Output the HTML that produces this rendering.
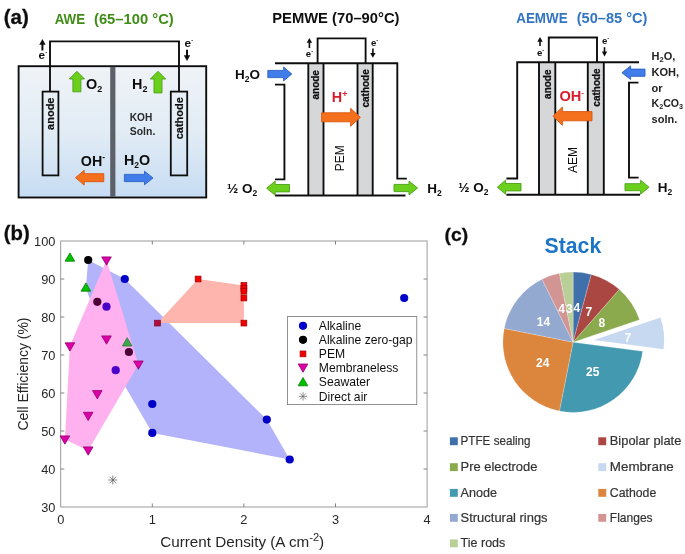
<!DOCTYPE html>
<html><head><meta charset="utf-8"><title>Water electrolysers</title>
<style>html,body{margin:0;padding:0;background:#fff}svg{display:block}text{font-family:'Liberation Sans', sans-serif}</style></head><body>
<svg width="685" height="554" viewBox="0 0 685 554">
<defs><linearGradient id="tank" x1="0" y1="0" x2="0" y2="1"><stop offset="0" stop-color="#eff3f7"/><stop offset="0.5" stop-color="#e2ecf5"/><stop offset="1" stop-color="#c6dcf3"/></linearGradient><linearGradient id="grn" x1="0" y1="0" x2="1" y2="1"><stop offset="0" stop-color="#7ccc2e"/><stop offset="1" stop-color="#5fb81f"/></linearGradient><filter id="soft" x="0" y="0" width="685" height="554" filterUnits="userSpaceOnUse"><feGaussianBlur stdDeviation="0.35"/></filter></defs>
<rect width="685" height="554" fill="#fff"/>
<g filter="url(#soft)">
<text x="3.8" y="24" font-size="20.5" font-weight="bold" fill="#111" stroke="#111" stroke-width="0.3">(a)</text>
<text x="54.7" y="23.6" font-size="15.2" font-weight="bold" fill="#408d18" textLength="30.4" lengthAdjust="spacingAndGlyphs">AWE</text>
<text x="94" y="23.6" font-size="15.2" font-weight="bold" fill="#408d18" textLength="79.7" lengthAdjust="spacingAndGlyphs">(65–100 °C)</text>
<rect x="18.6" y="66.2" width="187.6" height="131.3" fill="url(#tank)" stroke="#111" stroke-width="1.9"/>
<rect x="110.2" y="66.9" width="5.2" height="130" fill="#5b6169"/>
<polyline points="50,92 50,41.4 179,41.4 179,92" fill="none" stroke="#111" stroke-width="1.9"/>
<rect x="42.6" y="91.6" width="15.8" height="83.8" fill="none" stroke="#111" stroke-width="1.8"/>
<rect x="170.8" y="91.6" width="16.4" height="83.8" fill="none" stroke="#111" stroke-width="1.8"/>
<text transform="translate(54.2,113.7) rotate(-90)" text-anchor="middle" font-size="11" font-weight="bold" fill="#111" stroke="#111" stroke-width="0.2">anode</text>
<text transform="translate(183.4,118.2) rotate(-90)" text-anchor="middle" font-size="11" font-weight="bold" fill="#111" stroke="#111" stroke-width="0.2">cathode</text>
<line x1="42.4" y1="50.5" x2="42.4" y2="42" stroke="#111" stroke-width="2"/><polygon points="39.199999999999996,44.8 45.6,44.8 42.4,39" fill="#111"/>
<text x="38.6" y="59.2" font-size="11.8" font-weight="bold" fill="#111">e<tspan font-size="6" dy="-5.0">-</tspan></text>
<text x="184.6" y="47.2" font-size="11.8" font-weight="bold" fill="#111">e<tspan font-size="6" dy="-5.0">-</tspan></text>
<line x1="187" y1="49.8" x2="187" y2="58" stroke="#111" stroke-width="2"/><polygon points="183.8,55.2 190.2,55.2 187,61" fill="#111"/>
<polygon points="72.9,91.8 72.9,79 69.30000000000001,79 76.9,71.3 84.5,79 80.9,79 80.9,91.8" fill="#6ad01e" stroke="#4c9f17" stroke-width="0.9" stroke-linejoin="miter"/>
<polygon points="154,92.9 154,79 150.3,79 158,71.3 165.7,79 162,79 162,92.9" fill="#6ad01e" stroke="#4c9f17" stroke-width="0.9" stroke-linejoin="miter"/>
<text x="86" y="88.6" font-size="14.4" font-weight="bold" fill="#111">O<tspan font-size="9" dy="3">2</tspan></text>
<text x="132" y="88.6" font-size="14.4" font-weight="bold" fill="#111">H<tspan font-size="9" dy="3">2</tspan></text>
<text x="129.8" y="121.3" font-size="10" font-weight="bold" fill="#2a2a2a" textLength="22.5" lengthAdjust="spacingAndGlyphs">KOH</text>
<text x="129.8" y="134.7" font-size="10" font-weight="bold" fill="#2a2a2a" textLength="25.5" lengthAdjust="spacingAndGlyphs">Soln.</text>
<text x="80.8" y="166" font-size="14.3" font-weight="bold" fill="#111">OH<tspan font-size="8.5" dy="-6">-</tspan></text>
<text x="124" y="165.3" font-size="14.3" font-weight="bold" fill="#111">H<tspan font-size="8.5" dy="2.5">2</tspan><tspan dy="-2.5">O</tspan></text>
<polygon points="103.8,173.7 84.2,173.7 84.2,170.29999999999998 75.5,177.7 84.2,185.1 84.2,181.7 103.8,181.7" fill="#f4701f" stroke="#d9560f" stroke-width="0.9" stroke-linejoin="miter"/>
<polygon points="124.4,174.4 144.5,174.4 144.5,171.2 153,178 144.5,184.8 144.5,181.6 124.4,181.6" fill="#3f7bea" stroke="#2c62c4" stroke-width="0.9" stroke-linejoin="miter"/>
<text x="272.2" y="23" font-size="14.5" font-weight="bold" fill="#111" textLength="127.3" lengthAdjust="spacingAndGlyphs">PEMWE (70–90°C)</text>
<rect x="308.3" y="63.3" width="15.2" height="132.2" fill="#d6d7d9"/>
<rect x="357.5" y="63.3" width="15.2" height="132.2" fill="#d6d7d9"/>
<line x1="308.3" y1="63.3" x2="308.3" y2="195.5" stroke="#111" stroke-width="1.9"/>
<line x1="323.5" y1="63.3" x2="323.5" y2="195.5" stroke="#111" stroke-width="1.9"/>
<line x1="357.5" y1="63.3" x2="357.5" y2="195.5" stroke="#111" stroke-width="1.9"/>
<line x1="372.7" y1="63.3" x2="372.7" y2="195.5" stroke="#111" stroke-width="1.9"/>
<polyline points="275,63.3 397.3,63.3 397.3,178.6 406.8,178.6" fill="none" stroke="#111" stroke-width="1.9"/>
<polyline points="275,84.6 284.4,84.6 284.4,179.4 275,179.4" fill="none" stroke="#111" stroke-width="1.9"/>
<line x1="275" y1="195.5" x2="405.5" y2="195.5" stroke="#111" stroke-width="1.9"/>
<polyline points="317.6,63.3 317.6,38.4 365.6,38.4 365.6,63.3" fill="none" stroke="#111" stroke-width="1.9"/>
<line x1="309.4" y1="48" x2="309.4" y2="41" stroke="#111" stroke-width="1.6"/><polygon points="306.7,42.8 312.09999999999997,42.8 309.4,38" fill="#111"/>
<text x="305.8" y="57.4" font-size="9.6" font-weight="bold" fill="#111">e<tspan font-size="6" dy="-4.0">-</tspan></text>
<text x="371" y="45.6" font-size="9.6" font-weight="bold" fill="#111">e<tspan font-size="6" dy="-4.0">-</tspan></text>
<line x1="372.9" y1="48.6" x2="372.9" y2="54.8" stroke="#111" stroke-width="1.6"/><polygon points="370.2,53.0 375.59999999999997,53.0 372.9,57.8" fill="#111"/>
<text transform="translate(319.4,84.8) rotate(-90)" text-anchor="middle" font-size="10" font-weight="bold" fill="#111" stroke="#111" stroke-width="0.25">anode</text>
<text transform="translate(368.6,88.4) rotate(-90)" text-anchor="middle" font-size="10" font-weight="bold" fill="#111" stroke="#111" stroke-width="0.25">cathode</text>
<text x="235" y="79" font-size="13.5" font-weight="bold" fill="#111">H<tspan font-size="8.5" dy="2.5">2</tspan><tspan dy="-2.5">O</tspan></text>
<polygon points="267.8,70.4 283.6,70.4 283.6,67 291.8,74 283.6,81 283.6,77.6 267.8,77.6" fill="#3f7bea" stroke="#2c62c4" stroke-width="0.9" stroke-linejoin="miter"/>
<text x="331.8" y="102.3" font-size="14.4" font-weight="bold" fill="#d81e2c">H<tspan font-size="9" dy="-5.5">+</tspan></text>
<polygon points="321.6,112.8 350.6,112.8 350.6,108.3 360.4,117.3 350.6,126.3 350.6,121.8 321.6,121.8" fill="#f4701f" stroke="#d9560f" stroke-width="0.9" stroke-linejoin="miter"/>
<text transform="translate(344.3,158.2) rotate(-90)" text-anchor="middle" font-size="12" fill="#111">PEM</text>
<text x="227" y="193" font-size="13.5" font-weight="bold" fill="#111">½ O<tspan font-size="8.5" dy="2.5">2</tspan></text>
<polygon points="289.5,184.5 275.2,184.5 275.2,181.1 266.6,188.2 275.2,195.29999999999998 275.2,191.89999999999998 289.5,191.89999999999998" fill="#6ad01e" stroke="#4c9f17" stroke-width="0.9" stroke-linejoin="miter"/>
<polygon points="394,184.4 409,184.4 409,181.1 417.6,188 409,194.9 409,191.6 394,191.6" fill="#6ad01e" stroke="#4c9f17" stroke-width="0.9" stroke-linejoin="miter"/>
<text x="427.3" y="193" font-size="13.5" font-weight="bold" fill="#111">H<tspan font-size="8.5" dy="2.5">2</tspan></text>
<text x="516.2" y="23.2" font-size="15" font-weight="bold" fill="#3074c2" textLength="51.5" lengthAdjust="spacingAndGlyphs">AEMWE</text>
<text x="576.7" y="23.2" font-size="15" font-weight="bold" fill="#3074c2" textLength="70.8" lengthAdjust="spacingAndGlyphs">(50–85 °C)</text>
<rect x="539" y="62.3" width="16.3" height="132.5" fill="#d6d7d9"/>
<rect x="587.8" y="62.3" width="16" height="132.5" fill="#d6d7d9"/>
<line x1="539" y1="62.3" x2="539" y2="194.8" stroke="#111" stroke-width="1.9"/>
<line x1="555.3" y1="62.3" x2="555.3" y2="194.8" stroke="#111" stroke-width="1.9"/>
<line x1="587.8" y1="62.3" x2="587.8" y2="194.8" stroke="#111" stroke-width="1.9"/>
<line x1="603.8" y1="62.3" x2="603.8" y2="194.8" stroke="#111" stroke-width="1.9"/>
<polyline points="639,62.3 517.2,62.3 517.2,178.5 506.4,178.5" fill="none" stroke="#111" stroke-width="1.9"/>
<polyline points="638.4,82.6 629,82.6 629,177.6 638.6,177.6" fill="none" stroke="#111" stroke-width="1.9"/>
<line x1="506.4" y1="194.8" x2="640" y2="194.8" stroke="#111" stroke-width="1.9"/>
<polyline points="548.8,62.3 548.8,37.5 597,37.5 597,62.3" fill="none" stroke="#111" stroke-width="1.9"/>
<line x1="540" y1="46" x2="540" y2="40" stroke="#111" stroke-width="1.6"/><polygon points="537.3,41.8 542.7,41.8 540,37" fill="#111"/>
<text x="537" y="56.4" font-size="9.6" font-weight="bold" fill="#111">e<tspan font-size="6" dy="-4.0">-</tspan></text>
<text x="602" y="44" font-size="9.6" font-weight="bold" fill="#111">e<tspan font-size="6" dy="-4.0">-</tspan></text>
<line x1="604.5" y1="47.2" x2="604.5" y2="53.4" stroke="#111" stroke-width="1.6"/><polygon points="601.8,51.6 607.2,51.6 604.5,56.4" fill="#111"/>
<text transform="translate(550.6,84.2) rotate(-90)" text-anchor="middle" font-size="10" font-weight="bold" fill="#111" stroke="#111" stroke-width="0.25">anode</text>
<text transform="translate(600,87.5) rotate(-90)" text-anchor="middle" font-size="10" font-weight="bold" fill="#111" stroke="#111" stroke-width="0.25">cathode</text>
<text x="559.4" y="101" font-size="14.6" font-weight="bold" fill="#d81e2c">OH<tspan font-size="8" dy="-6.5">-</tspan></text>
<polygon points="592,111.60000000000001 562.4,111.60000000000001 562.4,107.0 552.9,116.2 562.4,125.4 562.4,120.8 592,120.8" fill="#f4701f" stroke="#d9560f" stroke-width="0.9" stroke-linejoin="miter"/>
<polygon points="645,69.10000000000001 630.6,69.10000000000001 630.6,65.9 621.9,72.7 630.6,79.5 630.6,76.3 645,76.3" fill="#3f7bea" stroke="#2c62c4" stroke-width="0.9" stroke-linejoin="miter"/>
<text transform="translate(576.6,160) rotate(-90)" text-anchor="middle" font-size="12" fill="#111">AEM</text>
<text x="651.6" y="60" font-size="11" font-weight="bold" fill="#222">H<tspan font-size="7.5" dy="2">2</tspan><tspan dy="-2">O,</tspan></text>
<text x="651.6" y="75.8" font-size="11" font-weight="bold" fill="#222">KOH,</text>
<text x="651.6" y="91.5" font-size="11" font-weight="bold" fill="#222">or</text>
<text x="651.6" y="107.2" font-size="11" font-weight="bold" fill="#222" textLength="31.5" lengthAdjust="spacingAndGlyphs">K<tspan font-size="7.5" dy="2">2</tspan><tspan dy="-2">CO</tspan><tspan font-size="7.5" dy="2">3</tspan></text>
<text x="651.6" y="123.1" font-size="11" font-weight="bold" fill="#222">soln.</text>
<text x="458.3" y="192" font-size="13.5" font-weight="bold" fill="#111">½ O<tspan font-size="8.5" dy="2.5">2</tspan></text>
<polygon points="521,183.5 505.6,183.5 505.6,180.2 497.3,187.2 505.6,194.2 505.6,190.89999999999998 521,190.89999999999998" fill="#6ad01e" stroke="#4c9f17" stroke-width="0.9" stroke-linejoin="miter"/>
<polygon points="625,183.7 640.6,183.7 640.6,180.2 649,187.2 640.6,194.2 640.6,190.7 625,190.7" fill="#6ad01e" stroke="#4c9f17" stroke-width="0.9" stroke-linejoin="miter"/>
<text x="657.8" y="192" font-size="13.5" font-weight="bold" fill="#111">H<tspan font-size="8.5" dy="2.5">2</tspan></text>
<text x="3.8" y="240.4" font-size="20.3" font-weight="bold" fill="#111" stroke="#111" stroke-width="0.3">(b)</text>
<polygon points="88.2,260.0 124.8,279.0 266.8,419.6 289.7,459.5 152.3,432.9 115.7,370.2 85.9,288.1" fill="#b2b3fb"/>
<polygon points="157.5,323.1 198.1,279.0 243.9,285.5 243.9,323.1" fill="#fdb5ae"/>
<polygon points="106.5,260.0 138.4,364.5 88.2,450.4 64.9,439.4 69.9,345.9" fill="#ffb0ee"/>
<rect x="60.7" y="241.0" width="366.4" height="266.0" fill="none" stroke="#909090" stroke-width="0.9"/>
<line x1="152.3" y1="507.0" x2="152.3" y2="503.4" stroke="#777" stroke-width="0.9"/>
<line x1="152.3" y1="241.0" x2="152.3" y2="244.6" stroke="#777" stroke-width="0.9"/>
<line x1="243.9" y1="507.0" x2="243.9" y2="503.4" stroke="#777" stroke-width="0.9"/>
<line x1="243.9" y1="241.0" x2="243.9" y2="244.6" stroke="#777" stroke-width="0.9"/>
<line x1="335.5" y1="507.0" x2="335.5" y2="503.4" stroke="#777" stroke-width="0.9"/>
<line x1="335.5" y1="241.0" x2="335.5" y2="244.6" stroke="#777" stroke-width="0.9"/>
<line x1="60.7" y1="469.0" x2="64.3" y2="469.0" stroke="#777" stroke-width="0.9"/>
<line x1="427.1" y1="469.0" x2="423.5" y2="469.0" stroke="#777" stroke-width="0.9"/>
<line x1="60.7" y1="431.0" x2="64.3" y2="431.0" stroke="#777" stroke-width="0.9"/>
<line x1="427.1" y1="431.0" x2="423.5" y2="431.0" stroke="#777" stroke-width="0.9"/>
<line x1="60.7" y1="393.0" x2="64.3" y2="393.0" stroke="#777" stroke-width="0.9"/>
<line x1="427.1" y1="393.0" x2="423.5" y2="393.0" stroke="#777" stroke-width="0.9"/>
<line x1="60.7" y1="355.0" x2="64.3" y2="355.0" stroke="#777" stroke-width="0.9"/>
<line x1="427.1" y1="355.0" x2="423.5" y2="355.0" stroke="#777" stroke-width="0.9"/>
<line x1="60.7" y1="317.0" x2="64.3" y2="317.0" stroke="#777" stroke-width="0.9"/>
<line x1="427.1" y1="317.0" x2="423.5" y2="317.0" stroke="#777" stroke-width="0.9"/>
<line x1="60.7" y1="279.0" x2="64.3" y2="279.0" stroke="#777" stroke-width="0.9"/>
<line x1="427.1" y1="279.0" x2="423.5" y2="279.0" stroke="#777" stroke-width="0.9"/>
<text x="55.4" y="511.5" font-size="12.8" text-anchor="end" fill="#262626">30</text>
<text x="55.4" y="473.5" font-size="12.8" text-anchor="end" fill="#262626">40</text>
<text x="55.4" y="435.5" font-size="12.8" text-anchor="end" fill="#262626">50</text>
<text x="55.4" y="397.5" font-size="12.8" text-anchor="end" fill="#262626">60</text>
<text x="55.4" y="359.5" font-size="12.8" text-anchor="end" fill="#262626">70</text>
<text x="55.4" y="321.5" font-size="12.8" text-anchor="end" fill="#262626">80</text>
<text x="55.4" y="283.5" font-size="12.8" text-anchor="end" fill="#262626">90</text>
<text x="55.4" y="245.5" font-size="12.8" text-anchor="end" fill="#262626">100</text>
<text x="60.7" y="524.4" font-size="12.8" text-anchor="middle" fill="#262626">0</text>
<text x="152.3" y="524.4" font-size="12.8" text-anchor="middle" fill="#262626">1</text>
<text x="243.9" y="524.4" font-size="12.8" text-anchor="middle" fill="#262626">2</text>
<text x="335.5" y="524.4" font-size="12.8" text-anchor="middle" fill="#262626">3</text>
<text x="427.1" y="524.4" font-size="12.8" text-anchor="middle" fill="#262626">4</text>
<text x="160.2" y="547" font-size="14.4" fill="#262626" textLength="164" lengthAdjust="spacingAndGlyphs">Current Density (A cm<tspan font-size="10.5" dy="-6">-2</tspan><tspan dy="6">)</tspan></text>
<text transform="translate(27.6,374) rotate(-90)" text-anchor="middle" font-size="14.4" fill="#262626" textLength="113" lengthAdjust="spacingAndGlyphs">Cell Efficiency (%)</text>
<circle cx="124.8" cy="279.0" r="4.1" fill="#0000c8"/>
<circle cx="152.3" cy="404.0" r="4.1" fill="#0000c8"/>
<circle cx="152.3" cy="432.9" r="4.1" fill="#0000c8"/>
<circle cx="266.8" cy="419.6" r="4.1" fill="#0000c8"/>
<circle cx="289.7" cy="459.5" r="4.1" fill="#0000c8"/>
<circle cx="404.2" cy="298.0" r="4.1" fill="#0000c8"/>
<circle cx="106.5" cy="306.7" r="4.1" fill="#4a00c8"/>
<circle cx="115.7" cy="370.2" r="4.1" fill="#4a00c8"/>
<circle cx="88.2" cy="260.0" r="4.1" fill="#000"/>
<circle cx="97.3" cy="301.8" r="4.1" fill="#4d0036"/>
<circle cx="128.9" cy="352.0" r="4.1" fill="#4d0036"/>
<rect x="154.6" y="320.2" width="5.8" height="5.8" fill="#b0103c" stroke="#7a0a30" stroke-width="0.7"/>
<rect x="195.2" y="276.1" width="5.8" height="5.8" fill="#f40000" stroke="#a00000" stroke-width="0.7"/>
<rect x="241.0" y="282.6" width="5.8" height="5.8" fill="#f40000" stroke="#a00000" stroke-width="0.7"/>
<rect x="241.0" y="285.6" width="5.8" height="5.8" fill="#f40000" stroke="#a00000" stroke-width="0.7"/>
<rect x="241.0" y="288.3" width="5.8" height="5.8" fill="#f40000" stroke="#a00000" stroke-width="0.7"/>
<rect x="241.0" y="295.1" width="5.8" height="5.8" fill="#f40000" stroke="#a00000" stroke-width="0.7"/>
<rect x="241.0" y="320.2" width="5.8" height="5.8" fill="#f40000" stroke="#a00000" stroke-width="0.7"/>
<polygon points="101.7,256.9 111.3,256.9 106.5,265.2" fill="#dc00a8" stroke="#94006e" stroke-width="0.8" stroke-linejoin="round"/>
<polygon points="65.1,342.8 74.7,342.8 69.9,351.1" fill="#dc00a8" stroke="#94006e" stroke-width="0.8" stroke-linejoin="round"/>
<polygon points="101.7,335.9 111.3,335.9 106.5,344.2" fill="#dc00a8" stroke="#94006e" stroke-width="0.8" stroke-linejoin="round"/>
<polygon points="133.6,361.0 143.2,361.0 138.4,369.3" fill="#dc00a8" stroke="#94006e" stroke-width="0.8" stroke-linejoin="round"/>
<polygon points="92.5,390.6 102.1,390.6 97.3,398.9" fill="#dc00a8" stroke="#94006e" stroke-width="0.8" stroke-linejoin="round"/>
<polygon points="83.4,412.3 93.0,412.3 88.2,420.6" fill="#dc00a8" stroke="#94006e" stroke-width="0.8" stroke-linejoin="round"/>
<polygon points="60.1,435.9 69.7,435.9 64.9,444.2" fill="#dc00a8" stroke="#94006e" stroke-width="0.8" stroke-linejoin="round"/>
<polygon points="83.4,446.9 93.0,446.9 88.2,455.2" fill="#dc00a8" stroke="#94006e" stroke-width="0.8" stroke-linejoin="round"/>
<polygon points="65.1,261.2 74.7,261.2 69.9,252.9" fill="#00c000" stroke="#008000" stroke-width="0.8" stroke-linejoin="round"/>
<polygon points="81.1,291.2 90.7,291.2 85.9,282.9" fill="#00c000" stroke="#008000" stroke-width="0.8" stroke-linejoin="round"/>
<polygon points="122.4,346.0 132.0,346.0 127.2,337.7" fill="#3aa84a" stroke="#2a7a3a" stroke-width="0.8" stroke-linejoin="round"/>
<line x1="108.2" y1="480.0" x2="117.4" y2="480.0" stroke="#555" stroke-width="0.7"/><line x1="109.5" y1="476.7" x2="116.1" y2="483.3" stroke="#555" stroke-width="0.7"/><line x1="112.8" y1="475.4" x2="112.8" y2="484.6" stroke="#555" stroke-width="0.7"/><line x1="116.1" y1="476.7" x2="109.5" y2="483.3" stroke="#555" stroke-width="0.7"/>
<rect x="287.4" y="316.6" width="129.4" height="88" fill="#fff" stroke="#777" stroke-width="0.8"/>
<circle cx="303.0" cy="325.8" r="4.1" fill="#0000c8"/>
<circle cx="303.0" cy="339.8" r="4.1" fill="#000"/>
<rect x="300.1" y="351.0" width="5.8" height="5.8" fill="#f40000" stroke="#a00000" stroke-width="0.7"/>
<polygon points="298.2,364.0 307.8,364.0 303.0,372.3" fill="#dc00a8" stroke="#94006e" stroke-width="0.8" stroke-linejoin="round"/>
<polygon points="298.2,385.8 307.8,385.8 303.0,377.5" fill="#00c000" stroke="#008000" stroke-width="0.8" stroke-linejoin="round"/>
<line x1="298.8" y1="396.4" x2="307.2" y2="396.4" stroke="#666" stroke-width="0.7"/><line x1="300.0" y1="393.4" x2="306.0" y2="399.4" stroke="#666" stroke-width="0.7"/><line x1="303.0" y1="392.2" x2="303.0" y2="400.6" stroke="#666" stroke-width="0.7"/><line x1="306.0" y1="393.4" x2="300.0" y2="399.4" stroke="#666" stroke-width="0.7"/>
<text x="318.8" y="329.9" font-size="12.15" fill="#111">Alkaline</text>
<text x="318.8" y="343.9" font-size="12.15" fill="#111">Alkaline zero-gap</text>
<text x="318.8" y="358.0" font-size="12.15" fill="#111">PEM</text>
<text x="318.8" y="372.1" font-size="12.15" fill="#111">Membraneless</text>
<text x="318.8" y="386.1" font-size="12.15" fill="#111">Seawater</text>
<text x="318.8" y="400.5" font-size="12.15" fill="#111">Direct air</text>
<text x="444.6" y="240.8" font-size="19" font-weight="bold" fill="#111" stroke="#111" stroke-width="0.3" textLength="23.6" lengthAdjust="spacingAndGlyphs">(c)</text>
<text x="544.6" y="252.9" font-size="22.3" font-weight="bold" fill="#1b74c6" textLength="56.6" lengthAdjust="spacingAndGlyphs">Stack</text>
<path d="M573.10,342.20 L573.10,272.00 A70.2,70.2 0 0 1 591.27,274.39 Z" fill="#4170ab" stroke="#fff" stroke-opacity="0.35" stroke-width="0.6"/>
<path d="M573.10,342.20 L591.27,274.39 A70.2,70.2 0 0 1 619.39,289.42 Z" fill="#ab4643" stroke="#fff" stroke-opacity="0.35" stroke-width="0.6"/>
<path d="M573.10,342.20 L619.39,289.42 A70.2,70.2 0 0 1 639.57,319.63 Z" fill="#8aaa4d" stroke="#fff" stroke-opacity="0.35" stroke-width="0.6"/>
<path d="M594.00,340.10 L660.47,317.53 A70.2,70.2 0 0 1 663.60,349.26 Z" fill="#c7d9f1"/>
<path d="M573.10,342.20 L642.70,351.36 A70.2,70.2 0 0 1 559.40,411.05 Z" fill="#4399b0" stroke="#fff" stroke-opacity="0.35" stroke-width="0.6"/>
<path d="M573.10,342.20 L559.40,411.05 A70.2,70.2 0 0 1 504.25,328.50 Z" fill="#dc853e" stroke="#fff" stroke-opacity="0.35" stroke-width="0.6"/>
<path d="M573.10,342.20 L504.25,328.50 A70.2,70.2 0 0 1 542.05,279.24 Z" fill="#94a9d0" stroke="#fff" stroke-opacity="0.35" stroke-width="0.6"/>
<path d="M573.10,342.20 L542.05,279.24 A70.2,70.2 0 0 1 559.40,273.35 Z" fill="#d39594" stroke="#fff" stroke-opacity="0.35" stroke-width="0.6"/>
<path d="M573.10,342.20 L559.40,273.35 A70.2,70.2 0 0 1 573.10,272.00 Z" fill="#bacf97" stroke="#fff" stroke-opacity="0.35" stroke-width="0.6"/>
<text x="576.8" y="312.1" font-size="12" font-weight="bold" fill="#fff" text-anchor="middle">4</text>
<text x="588.9" y="316.3" font-size="12" font-weight="bold" fill="#fff" text-anchor="middle">7</text>
<text x="601.9" y="327.0" font-size="12" font-weight="bold" fill="#fff" text-anchor="middle">8</text>
<text x="627.9" y="341.7" font-size="12" font-weight="bold" fill="#fff" text-anchor="middle">7</text>
<text x="592.7" y="375.5" font-size="12" font-weight="bold" fill="#fff" text-anchor="middle">25</text>
<text x="542.7" y="366.9" font-size="12" font-weight="bold" fill="#fff" text-anchor="middle">24</text>
<text x="543.5" y="325.9" font-size="12" font-weight="bold" fill="#fff" text-anchor="middle">14</text>
<text x="561.5" y="313.3" font-size="12" font-weight="bold" fill="#fff" text-anchor="middle">4</text>
<text x="569.3" y="313.3" font-size="12" font-weight="bold" fill="#fff" text-anchor="middle">3</text>
<rect x="449.9" y="437.3" width="7.9" height="7.9" fill="#4170ab"/>
<text x="460.6" y="444.9" font-size="12.6" fill="#333" stroke="#333" stroke-width="0.2" textLength="70" lengthAdjust="spacingAndGlyphs">PTFE sealing</text>
<rect x="449.9" y="463.2" width="7.9" height="7.9" fill="#8aaa4d"/>
<text x="460.6" y="470.8" font-size="12.6" fill="#333" stroke="#333" stroke-width="0.2" textLength="76.8" lengthAdjust="spacingAndGlyphs">Pre electrode</text>
<rect x="449.9" y="488.9" width="7.9" height="7.9" fill="#4399b0"/>
<text x="460.6" y="496.5" font-size="12.6" fill="#333" stroke="#333" stroke-width="0.2" textLength="36.5" lengthAdjust="spacingAndGlyphs">Anode</text>
<rect x="449.9" y="513.9" width="7.9" height="7.9" fill="#94a9d0"/>
<text x="460.6" y="521.5" font-size="12.6" fill="#333" stroke="#333" stroke-width="0.2" textLength="87" lengthAdjust="spacingAndGlyphs">Structural rings</text>
<rect x="449.9" y="539.4" width="7.9" height="7.9" fill="#bacf97"/>
<text x="460.6" y="547" font-size="12.6" fill="#333" stroke="#333" stroke-width="0.2" textLength="44.7" lengthAdjust="spacingAndGlyphs">Tie rods</text>
<rect x="598.3" y="437.3" width="7.9" height="7.9" fill="#ab4643"/>
<text x="609.8" y="444.9" font-size="12.6" fill="#333" stroke="#333" stroke-width="0.2" textLength="71.5" lengthAdjust="spacingAndGlyphs">Bipolar plate</text>
<rect x="598.3" y="463.2" width="7.9" height="7.9" fill="#c7d9f1"/>
<text x="609.8" y="470.8" font-size="12.6" fill="#333" stroke="#333" stroke-width="0.2" textLength="64" lengthAdjust="spacingAndGlyphs">Membrane</text>
<rect x="598.3" y="488.9" width="7.9" height="7.9" fill="#dc853e"/>
<text x="609.8" y="496.5" font-size="12.6" fill="#333" stroke="#333" stroke-width="0.2" textLength="46.5" lengthAdjust="spacingAndGlyphs">Cathode</text>
<rect x="598.3" y="513.9" width="7.9" height="7.9" fill="#d39594"/>
<text x="609.8" y="521.5" font-size="12.6" fill="#333" stroke="#333" stroke-width="0.2" textLength="42.8" lengthAdjust="spacingAndGlyphs">Flanges</text>
</g>
</svg></body></html>
